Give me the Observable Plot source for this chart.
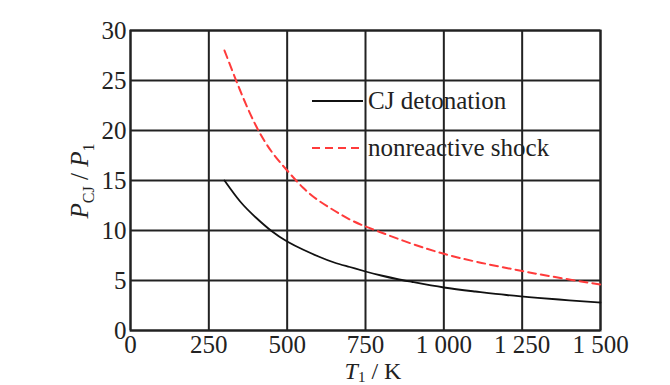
<!DOCTYPE html>
<html>
<head>
<meta charset="utf-8">
<script src="https://cdn.jsdelivr.net/npm/d3@7"></script>
<script src="https://cdn.jsdelivr.net/npm/@observablehq/plot@0.6"></script>
<style>
  html, body { margin: 0; padding: 0; background: white; }
  #chart { width: 670px; height: 385px; overflow: hidden; }
</style>
</head>
<body>
<div id="chart"></div>
<script>
// Data
const cjT = [300, 350, 400, 450, 500, 550, 600, 650, 700, 750, 800, 850, 900, 1000, 1100, 1200, 1300, 1400, 1500];
const cjP = [15.0, 12.9, 11.3, 9.95, 8.9, 8.1, 7.4, 6.8, 6.35, 5.9, 5.5, 5.15, 4.85, 4.3, 3.9, 3.55, 3.27, 3.02, 2.8];
const nsT = [300, 350, 400, 450, 500, 550, 600, 650, 700, 750, 800, 900, 1000, 1100, 1200, 1250, 1300, 1400, 1500];
const nsP = [28.0, 24.0, 20.5, 17.9, 16.0, 14.3, 13.0, 12.0, 11.1, 10.4, 9.8, 8.65, 7.67, 6.9, 6.25, 5.95, 5.65, 5.1, 4.6];
const xTicks = [0, 250, 500, 750, 1000, 1250, 1500];
const xTickLabels = ["0", "250", "500", "750", "1 000", "1 250", "1 500"];
const yTicks = [0, 5, 10, 15, 20, 25, 30];
const seriesNames = ["CJ detonation", "nonreactive shock"];

const cj = cjT.map((t, i) => ({T: t, P: cjP[i]}));
const ns = nsT.map((t, i) => ({T: t, P: nsP[i]}));

const font = "'Liberation Serif', 'Times New Roman', serif";
const red = "#ff3b3b";

const chart = Plot.plot({
  width: 670,
  height: 385,
  marginLeft: 130,
  marginRight: 70,
  marginTop: 30,
  marginBottom: 55,
  style: {fontFamily: font, fontSize: "25px", background: "white", color: "#222"},
  x: {domain: [0, 1500], label: null},
  y: {domain: [0, 30], label: null},
  marks: [
    Plot.gridX(xTicks, {stroke: "#222", strokeOpacity: 1, strokeWidth: 2}),
    Plot.gridY(yTicks, {stroke: "#222", strokeOpacity: 1, strokeWidth: 2}),
    Plot.frame({stroke: "#222", strokeWidth: 2}),
    Plot.axisX(xTicks, {tickSize: 0, tickPadding: 5, tickFormat: (d) => xTickLabels[xTicks.indexOf(d)], label: null, fill: "#222"}),
    Plot.axisY(yTicks, {tickSize: 0, tickPadding: 4, label: null, fill: "#222"}),
    Plot.line(cj, {x: "T", y: "P", stroke: "#111", strokeWidth: 1.8, curve: "natural"}),
    Plot.line(ns, {x: "T", y: "P", stroke: red, strokeWidth: 2, strokeDasharray: "8,5", curve: "natural"})
  ]
});

document.getElementById("chart").appendChild(chart);

const svg = d3.select(chart);
// Legend
const leg = svg.append("g").attr("font-family", font).attr("font-size", 25).attr("fill", "#222").attr("text-anchor", "start");
const legRows = [{y: 101, stroke: "#111", dash: null}, {y: 148, stroke: red, dash: "8,5"}];
legRows.forEach((r, i) => {
  leg.append("line").attr("x1", 312).attr("x2", 363).attr("y1", r.y).attr("y2", r.y)
    .attr("stroke", r.stroke).attr("stroke-width", i === 0 ? 1.8 : 2)
    .attr("stroke-dasharray", r.dash);
  leg.append("text").attr("x", 368).attr("y", r.y).attr("dy", "0.33em").attr("text-anchor", "start").text(seriesNames[i]);
});

// Y axis label: P_CJ / P_1
const yl = svg.append("text")
  .attr("transform", "translate(88,181) rotate(-90)")
  .attr("text-anchor", "middle")
  .attr("font-family", font).attr("font-size", 25).attr("fill", "#222");
yl.append("tspan").attr("font-style", "italic").text("P");
yl.append("tspan").attr("font-size", 16).attr("dy", 6).text("CJ");
yl.append("tspan").attr("dy", -6).text(" / ");
yl.append("tspan").attr("font-style", "italic").text("P");
yl.append("tspan").attr("font-size", 16).attr("dy", 6).text("1");

// X axis label: T_1 / K
const xl = svg.append("text")
  .attr("x", 373).attr("y", 379)
  .attr("text-anchor", "middle")
  .attr("font-family", font).attr("font-size", 24).attr("fill", "#222");
xl.append("tspan").attr("font-style", "italic").text("T");
xl.append("tspan").attr("font-size", 15).attr("dy", 3).text("1");
xl.append("tspan").attr("dy", -3).text(" / K");
</script>
</body>
</html>
